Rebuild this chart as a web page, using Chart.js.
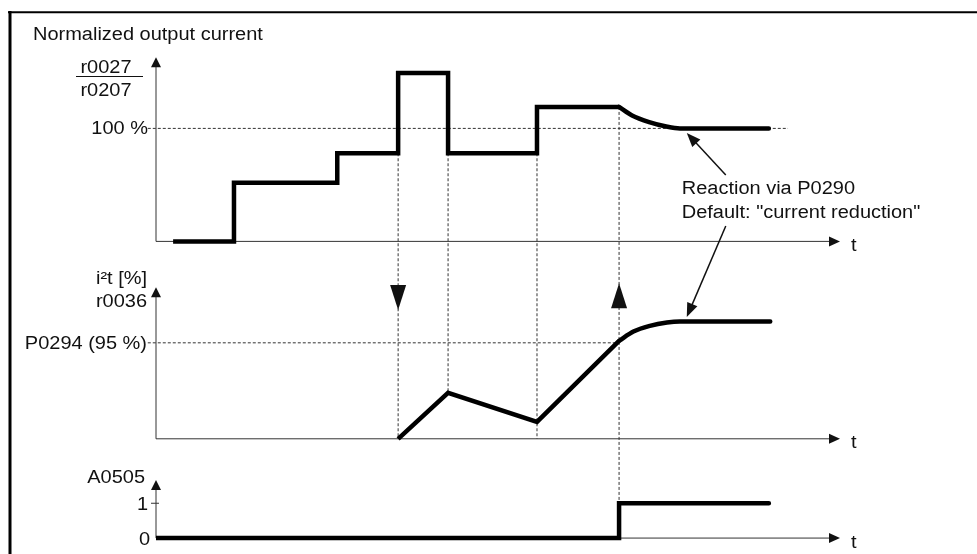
<!DOCTYPE html>
<html lang="en">
<head>
<meta charset="UTF-8">
<title>i2t monitoring</title>
<script src="https://cdn.jsdelivr.net/npm/chart.js"></script>
<style>
  html, body { margin: 0; padding: 0; background: #fff; }
  #wrap { width: 977px; height: 554px; }
</style>
</head>
<body>
<div id="wrap"><canvas id="i2tChart" width="977" height="554"></canvas></div>
<script>
// time axis (arbitrary units, 0 = y axis, 100 = arrow tip)
const timeMax = 100;

// normalized output current r0027 / r0207 [%]
const currentT = [2.5, 11.4, 11.4, 26.5, 26.5, 35.4, 35.4, 42.7, 42.7, 55.7, 55.7, 67.7];
const currentV = [0, 0, 52, 52, 78, 78, 149, 149, 78, 78, 119, 119];
// current reduction once the warning is set
const reductionT = [67.7, 69.6, 72.1, 74.6, 76.6, 89.6];
const reductionV = [119, 111.5, 105.6, 101.7, 100, 100];
const currentRefT = [-1.2, 92.4];
const currentRef = 100;

// i2t value r0036 [%]
const i2tT = [35.4, 42.7, 55.7, 67.7];
const i2tV = [0, 45.5, 16.8, 97];
const i2tLimitT = [67.7, 69.8, 72.2, 74.7, 76.6, 89.8];
const i2tLimitV = [97, 106.2, 111.8, 115.1, 116.1, 116.1];
const i2tThresholdT = [-1.2, 67.7];
const i2tThreshold = 95;

// warning A0505
const warnT = [0, 67.7, 67.7, 89.6];
const warnV = [0, 0, 1, 1];

const pts = (ts, vs) => ts.map((t, i) => ({x: t, y: Array.isArray(vs) ? vs[i] : vs}));

const FONT = '18px "Liberation Sans", Arial, sans-serif';
const SX = 1.11;   // text is drawn slightly wide
const INK = '#111';
const AXIS = '#333';

function text(ctx, str, x, y, align) {
  ctx.save();
  ctx.translate(x, y);
  ctx.scale(SX, 1);
  ctx.font = FONT;
  ctx.fillStyle = INK;
  ctx.textAlign = align || 'left';
  ctx.textBaseline = 'alphabetic';
  ctx.fillText(str, 0, 0);
  ctx.restore();
}

function seg(ctx, x1, y1, x2, y2, dash, width, color) {
  ctx.save();
  ctx.beginPath();
  ctx.setLineDash(dash || []);
  ctx.lineWidth = width || 1;
  ctx.strokeStyle = color || AXIS;
  ctx.moveTo(x1, y1);
  ctx.lineTo(x2, y2);
  ctx.stroke();
  ctx.restore();
}

// filled arrow head, tip at (x, y) pointing along angle
function head(ctx, x, y, angle, len, wid) {
  ctx.save();
  ctx.translate(x, y);
  ctx.rotate(angle);
  ctx.beginPath();
  ctx.moveTo(0, 0);
  ctx.lineTo(-len, -wid / 2);
  ctx.lineTo(-len, wid / 2);
  ctx.closePath();
  ctx.fillStyle = INK;
  ctx.fill();
  ctx.restore();
}

// axes: y axis id, value at the top arrow
const axes = [
  {id: 'y1', top: 163},
  {id: 'y2', top: 150},
  {id: 'y3', top: 1.67}
];

// dashed lines linking the panels
const guides = [
  {t: 35.4, from: ['y1', 78], to: ['y2', 0], arrow: {axis: 'y2', tip: 127.5, dir: 1}},
  {t: 42.7, from: ['y1', 78], to: ['y2', 45.5]},
  {t: 55.7, from: ['y1', 78], to: ['y2', 0]},
  {t: 67.7, from: ['y1', 119], to: ['y3', 1], arrow: {axis: 'y2', tip: 154, dir: -1}}
];

const sketch = {
  id: 'sketch',
  beforeDatasetsDraw(chart) {
    const {ctx, scales} = chart;
    const sx = scales.x;

    // frame
    seg(ctx, 8, 12.3, 977, 12.3, null, 2, '#000');
    seg(ctx, 10, 11, 10, 554, null, 3, '#000');

    const x0 = sx.getPixelForValue(0);
    const xEnd = sx.getPixelForValue(timeMax);
    axes.forEach(a => {
      const s = scales[a.id];
      const y0 = s.getPixelForValue(0);
      const yTop = s.getPixelForValue(a.top);
      seg(ctx, x0, y0, x0, yTop + 6);
      head(ctx, x0, yTop, -Math.PI / 2, 10, 10);
      seg(ctx, x0, y0, xEnd - 6, y0);
      head(ctx, xEnd, y0, 0, 11, 10);
    });

    guides.forEach(g => {
      const px = sx.getPixelForValue(g.t);
      const yA = scales[g.from[0]].getPixelForValue(g.from[1]);
      const yB = scales[g.to[0]].getPixelForValue(g.to[1]);
      seg(ctx, px, yA, px, yB, [3, 2], 1, AXIS);
      if (g.arrow) {
        const tip = scales[g.arrow.axis].getPixelForValue(g.arrow.tip);
        head(ctx, px, tip, g.arrow.dir > 0 ? Math.PI / 2 : -Math.PI / 2, 25, 16);
      }
    });

    // tick at "1" on the warning axis
    const y3one = scales.y3.getPixelForValue(1);
    seg(ctx, x0 - 5, y3one, x0 + 3, y3one);
  },
  afterDatasetsDraw(chart) {
    const {ctx, scales} = chart;
    const sx = scales.x;
    const {y1, y2, y3} = scales;
    const xEnd = sx.getPixelForValue(timeMax);

    text(ctx, 'Normalized output current', 33, 40);
    text(ctx, 'r0027', 106, 73, 'center');
    seg(ctx, 76, 76.5, 143, 76.5, null, 1, INK);
    text(ctx, 'r0207', 106, 96, 'center');
    text(ctx, '100 %', 148, y1.getPixelForValue(currentRef) + 6, 'right');

    text(ctx, 'i\u00b2t [%]', 147, 284, 'right');
    text(ctx, 'r0036', 147, 307, 'right');
    text(ctx, 'P0294 (95 %)', 147, y2.getPixelForValue(i2tThreshold) + 6, 'right');

    text(ctx, 'A0505', 145, 483, 'right');
    text(ctx, '1', 148, y3.getPixelForValue(1) + 6.5, 'right');
    text(ctx, '0', 150, y3.getPixelForValue(0) + 6.5, 'right');

    [y1, y2, y3].forEach(s => text(ctx, 't', xEnd + 11, s.getPixelForValue(0) + 9.5));

    // annotation: reaction to the i2t warning
    const tail1 = {x: sx.getPixelForValue(83.3), y: y1.getPixelForValue(58.8)};
    const tip1 = {x: sx.getPixelForValue(77.6), y: y1.getPixelForValue(95.9)};
    const tail2 = {x: sx.getPixelForValue(83.3), y: y1.getPixelForValue(13.6)};
    const tip2 = {x: sx.getPixelForValue(77.6), y: y2.getPixelForValue(120.5)};
    [[tail1, tip1], [tail2, tip2]].forEach(([a, b]) => {
      const ang = Math.atan2(b.y - a.y, b.x - a.x);
      seg(ctx, a.x, a.y, b.x - 10 * Math.cos(ang), b.y - 10 * Math.sin(ang), null, 1.5, INK);
      head(ctx, b.x, b.y, ang, 14, 11);
    });
    text(ctx, 'Reaction via P0290', tail1.x - 44, tail1.y + 19);
    text(ctx, 'Default: "current reduction"', tail1.x - 44, tail1.y + 43);
  }
};

const thick = {borderColor: '#000', borderWidth: 4.5, pointRadius: 0, tension: 0,
  borderJoinStyle: 'miter', borderCapStyle: 'butt', fill: false};
const curve = Object.assign({}, thick, {cubicInterpolationMode: 'monotone', borderCapStyle: 'round'});
const dashed = {borderColor: AXIS, borderWidth: 1, borderDash: [3, 2], pointRadius: 0,
  fill: false, clip: false, order: 5};

new Chart(document.getElementById('i2tChart'), {
  type: 'line',
  data: {
    datasets: [
      Object.assign({label: 'r0027/r0207', data: pts(currentT, currentV), yAxisID: 'y1'}, thick),
      Object.assign({label: 'current reduction', data: pts(reductionT, reductionV), yAxisID: 'y1'}, curve),
      Object.assign({label: '100 %', data: pts(currentRefT, currentRef), yAxisID: 'y1'}, dashed),
      Object.assign({label: 'r0036', data: pts(i2tT, i2tV), yAxisID: 'y2'}, thick),
      Object.assign({label: 'r0036 limited', data: pts(i2tLimitT, i2tLimitV), yAxisID: 'y2'}, curve),
      Object.assign({label: 'P0294', data: pts(i2tThresholdT, i2tThreshold), yAxisID: 'y2'}, dashed),
      Object.assign({label: 'A0505', data: pts(warnT, warnV), yAxisID: 'y3'}, thick, {borderCapStyle: 'round'})
    ]
  },
  options: {
    responsive: false,
    devicePixelRatio: 1,
    animation: false,
    events: [],
    layout: {padding: {left: 156, right: 137, top: 38, bottom: 2}},
    plugins: {legend: {display: false}, tooltip: {enabled: false}},
    scales: {
      x: {type: 'linear', min: 0, max: timeMax, display: false},
      y1: {type: 'linear', position: 'left', stack: 'panels', stackWeight: 226, weight: 3,
        min: -20, max: 180, display: false},
      y2: {type: 'linear', position: 'left', stack: 'panels', stackWeight: 194, weight: 2,
        min: -19, max: 173, display: false},
      y3: {type: 'linear', position: 'left', stack: 'panels', stackWeight: 94, weight: 1,
        min: -0.4, max: 2.3, display: false}
    }
  },
  plugins: [sketch]
});
</script>
</body>
</html>
